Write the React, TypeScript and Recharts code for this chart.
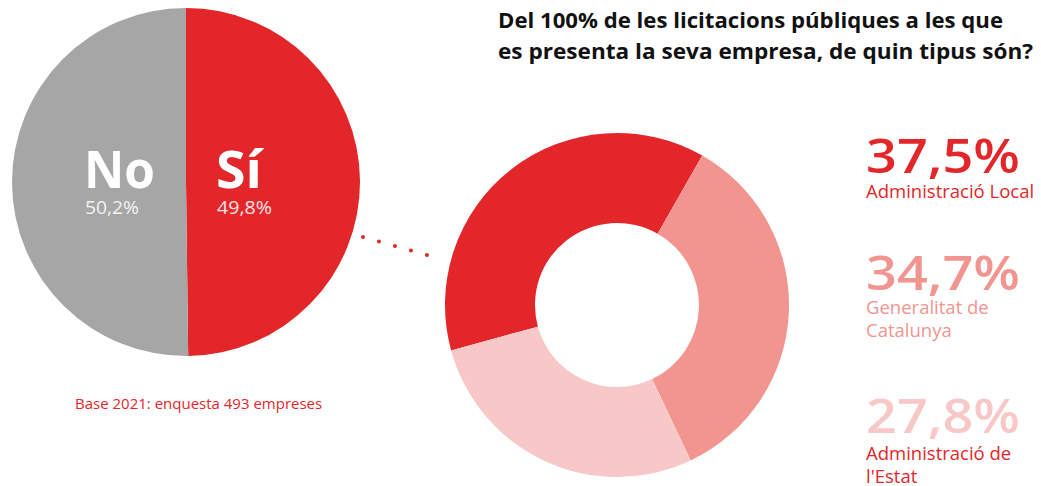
import { PieChart, Pie, Cell } from "recharts";

// survey answers: does the company bid for public tenders?
const answerLabels = ["Sí", "No"];
const answerValues = [49.8, 50.2];

// tender types (share of 100%)
const typeLabels = ["Administració Local", "Generalitat de Catalunya", "Administració de l'Estat"];
const typeValues = [37.5, 34.7, 27.8];

const RED = "#e3262a";
const GREY = "#a6a6a6";
const ANSWER_COLORS = [RED, GREY];
const TYPE_COLORS = [RED, "#f2948f", "#f8c8c8"];
const TYPE_LABEL_COLORS = [RED, "#f2948f", RED];

const FONT = "'Open Sans', Lato, sans-serif";
const W = 1041;
const H = 486;

const fmt = (v: number) => v.toFixed(1).replace(".", ",") + "%";

const answerData = answerLabels.map((name, i) => ({ name, value: answerValues[i] }));
const typeData = typeLabels.map((name, i) => ({ name, value: typeValues[i] }));

// label lines wrapped as in the original layout
const typeLines = [["Administració Local"], ["Generalitat de", "Catalunya"], ["Administració de", "l'Estat"]];
const numBase = [173, 290, 433];
const labelBase = [198, 314, 460];

export default function App() {
  return (
    <div style={{ position: "absolute", left: 0, top: 0, width: W, height: H, background: "#fff", fontFamily: FONT }}>
      <PieChart width={W} height={H} margin={{ top: 0, right: 0, bottom: 0, left: 0 }}>
        <Pie
          data={answerData}
          dataKey="value"
          cx={186}
          cy={182}
          outerRadius={174}
          startAngle={90}
          endAngle={-270}
          stroke="none"
          isAnimationActive={false}
        >
          {answerData.map((d, i) => (
            <Cell key={d.name} fill={ANSWER_COLORS[i]} />
          ))}
        </Pie>
        <Pie
          data={typeData}
          dataKey="value"
          cx={617}
          cy={305}
          innerRadius={82}
          outerRadius={172}
          startAngle={195.3}
          endAngle={-164.7}
          stroke="none"
          isAnimationActive={false}
        >
          {typeData.map((d, i) => (
            <Cell key={d.name} fill={TYPE_COLORS[i]} />
          ))}
        </Pie>
      </PieChart>

      <svg width={W} height={H} style={{ position: "absolute", left: 0, top: 0, pointerEvents: "none" }}>
        {/* dotted connector */}
        <line
          x1={363}
          y1={237}
          x2={427}
          y2={255}
          stroke={RED}
          strokeWidth={4}
          strokeLinecap="round"
          strokeDasharray="0 16.6"
        />

        <text x={498} y={28} fontSize={21} fontWeight={700} fill="#111" textLength={505} lengthAdjust="spacingAndGlyphs">
          Del 100% de les licitacions públiques a les que
        </text>
        <text x={498} y={59} fontSize={21} fontWeight={700} fill="#111" textLength={535} lengthAdjust="spacingAndGlyphs">
          es presenta la seva empresa, de quin tipus són?
        </text>

        {/* pie labels */}
        <text x={84} y={188} fontSize={52} fontWeight={700} fill="#fff" textLength={71} lengthAdjust="spacingAndGlyphs">
          {answerLabels[1]}
        </text>
        <text x={85} y={214} fontSize={18.5} fill="#f2f2f2" textLength={54} lengthAdjust="spacingAndGlyphs">
          {fmt(answerValues[1])}
        </text>
        <text x={216} y={188} fontSize={52} fontWeight={700} fill="#fff" textLength={46} lengthAdjust="spacingAndGlyphs">
          {answerLabels[0]}
        </text>
        <text x={217} y={214} fontSize={18.5} fill="#fbe3e3" textLength={55} lengthAdjust="spacingAndGlyphs">
          {fmt(answerValues[0])}
        </text>

        <text x={75} y={409} fontSize={15} fill={RED}>
          Base 2021: enquesta 493 empreses
        </text>

        {typeValues.map((v, i) => (
          <g key={typeLabels[i]}>
            <text
              x={866}
              y={numBase[i]}
              fontSize={47}
              fontWeight={600}
              fill={TYPE_COLORS[i]}
              textLength={154}
              lengthAdjust="spacingAndGlyphs"
            >
              {fmt(v)}
            </text>
            {typeLines[i].map((line, j) => (
              <text key={line} x={866} y={labelBase[i] + j * 22.5} fontSize={18.5} fill={TYPE_LABEL_COLORS[i]}>
                {line}
              </text>
            ))}
          </g>
        ))}
      </svg>
    </div>
  );
}
